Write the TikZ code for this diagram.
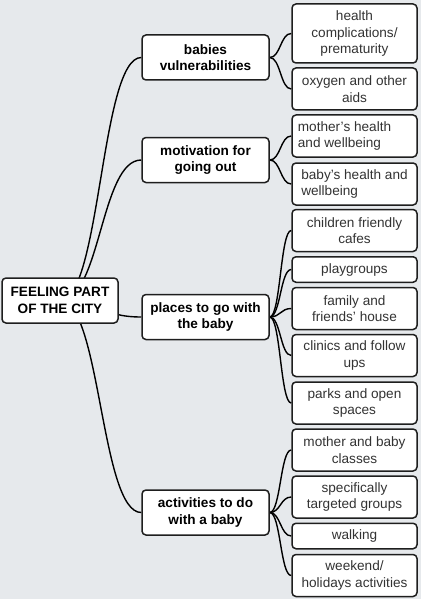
\documentclass[tikz,border=0pt]{standalone}
\usepackage{fontspec}
\setmainfont{Liberation Sans}
\usetikzlibrary{calc,backgrounds}
\definecolor{paper}{HTML}{E6E9EC}
\definecolor{boxline}{HTML}{1E1E1E}
\definecolor{leaftext}{HTML}{333333}
\tikzset{
    box/.style={draw=boxline,line width=1.5pt,rounded corners=4pt,fill=white,
        align=center,inner xsep=2pt,inner ysep=1pt,
        font=\fontsize{13.6}{16.5}\selectfont},
    hub/.style={box,font=\fontsize{13.6}{16.5}\selectfont\bfseries,
        minimum width=127pt,minimum height=45pt},
    leaf/.style={box,text=leaftext,minimum width=125pt,minimum height=42pt},
    leafone/.style={leaf,minimum height=25.5pt},
    leafthree/.style={leaf,minimum height=59pt},
    branch/.style={line width=1.4pt,black},
}
\newcommand\Branch[2]{%
    \draw[branch] let \p1=(#1), \p2=(#2) in
        (\p1) .. controls ({(\x1+\x2)/2},\y1) and ({(\x1+\x2)/2},\y2) .. (\p2);
}
\begin{document}
\begin{tikzpicture}[x=1pt,y=-1pt]
    \useasboundingbox (0,0) rectangle (421,599);
    % root
    \node[hub,minimum width=116pt] (root) at (60,300.5) {FEELING PART\\OF THE CITY};
    % second level
    \node[hub] (vuln) at (205.5,57.5) {babies\\vulnerabilities};
    \node[hub] (motiv) at (205.5,160) {motivation for\\going out};
    \node[hub] (places) at (205.5,317) {places to go with\\the baby};
    \node[hub] (activ) at (205.5,512.5) {activities to do\\with a baby};
    % leaves
    \node[leafthree] (compl) at (354.5,33.5) {health\\complications/\\prematurity};
    \node[leaf] (oxygen) at (354.5,89) {oxygen and other\\aids};
    \node[leaf,align=left] (mother) at (354.5,136) {mother's health\\and wellbeing\hspace*{30pt}};
    \node[leaf,align=left] (baby) at (354.5,184) {baby's health and\\wellbeing};
    \node[leaf] (cafes) at (354.5,230.5) {children friendly\\cafes};
    \node[leafone] (play) at (354.5,269.5) {playgroups};
    \node[leaf] (friends) at (354.5,308.5) {family and\\friends' house};
    \node[leaf] (clinics) at (354.5,355.5) {clinics and follow\\ups};
    \node[leaf] (parks) at (354.5,403) {parks and open\\spaces};
    \node[leaf] (classes) at (354.5,450) {mother and baby\\classes};
    \node[leaf] (groups) at (354.5,497) {specifically\\targeted groups};
    \node[leafone] (walking) at (354.5,536) {walking};
    \node[leaf] (weekend) at (354.5,575.5) {weekend/\\holidays activities};
    \begin{pgfonlayer}{background}
        \fill[paper] (0,0) rectangle (421,599);
        \foreach \hubnode in {vuln,motiv,places,activ}
            {\Branch{root.center}{\hubnode.west}}
        \foreach \leafnode in {compl,oxygen}
            {\Branch{vuln.east}{\leafnode.west}}
        \foreach \leafnode in {mother,baby}
            {\Branch{motiv.east}{\leafnode.west}}
        \foreach \leafnode in {cafes,play,friends,clinics,parks}
            {\Branch{places.east}{\leafnode.west}}
        \foreach \leafnode in {classes,groups,walking,weekend}
            {\Branch{activ.east}{\leafnode.west}}
    \end{pgfonlayer}
\end{tikzpicture}
\end{document}
